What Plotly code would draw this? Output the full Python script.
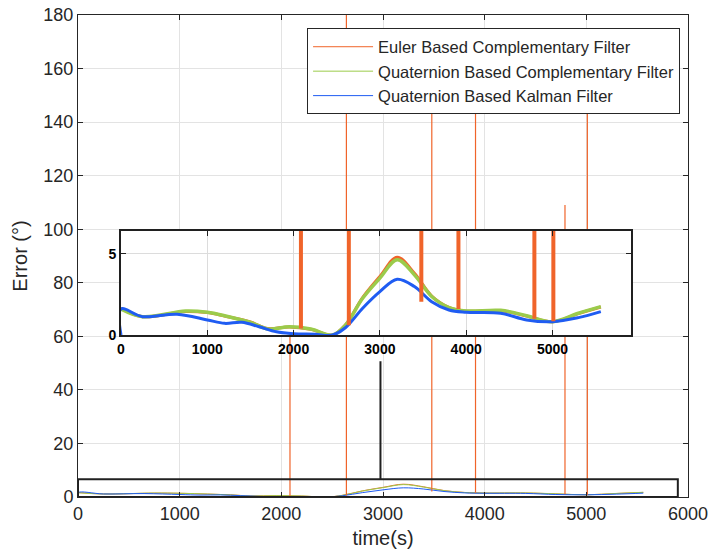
import plotly.graph_objects as go

# ---------------- data ----------------
kf_t = [0, 0, 250, 650, 1000, 1200, 1400, 1600, 1800, 2000, 2250, 2450, 2600, 2800,
        3000, 3200, 3400, 3600, 3800, 4000, 4400, 4700, 5000, 5300, 5560]
kf_err = [0, 1.6, 1.13, 1.28, 0.93, 0.72, 0.78, 0.51, 0.2, 0.08, 0.05, 0.0, 0.45, 1.65,
          2.67, 3.43, 2.98, 2.05, 1.54, 1.4, 1.34, 0.93, 0.82, 1.07, 1.44]

cf_t = [0, 250, 750, 1000, 1200, 1500, 1700, 1950, 2200, 2450, 2600, 2800,
        3000, 3200, 3400, 3600, 3800, 4000, 4400, 4700, 5000, 5300, 5560]
qcf_err = [1.6, 1.13, 1.48, 1.4, 1.19, 0.78, 0.37, 0.51, 0.37, 0.0, 0.6, 2.26,
           3.5, 4.63, 3.7, 2.37, 1.69, 1.48, 1.52, 1.19, 0.82, 1.34, 1.75]
ecf_err = [1.65, 1.13, 1.45, 1.38, 1.17, 0.8, 0.4, 0.5, 0.35, 0.0, 0.62, 2.3,
           3.6, 4.78, 3.8, 2.4, 1.7, 1.47, 1.5, 1.17, 0.82, 1.32, 1.72]

# Euler filter spikes
spike_t = [2085, 2640, 3480, 3910, 4790, 5010]
spike_base = [0.4, 0.6, 2.05, 1.6, 1.0, 0.85]
spike_peak = [85, 200, 170, 147, 109, 165]

names = ["Euler Based Complementary Filter",
         "Quaternion Based Complementary Filter",
         "Quaternion Based Kalman Filter"]
x_ticks = [0, 1000, 2000, 3000, 4000, 5000, 6000]
y_ticks = [0, 20, 40, 60, 80, 100, 120, 140, 160, 180]
inset_x_ticks = [0, 1000, 2000, 3000, 4000, 5000]
inset_y_ticks = [0, 5]

# zoom box and connector (data coords of main axes)
zoom_box = dict(x0=0, x1=5900, y0=0, y1=6.6)
connector = dict(x=2975, y0=6.6, y1=50.7)

C_EUL = "#F0642A"
C_QCF = "#9BCB4B"
C_KF = "#1F5CF2"
TXT = "#262626"
FONT = "Liberation Sans, Arial, sans-serif"

sx, sy = [], []
for t, b, p in zip(spike_t, spike_base, spike_peak):
    sx += [t, t, None]
    sy += [b, p, None]

fig = go.Figure()

# ---- main axes traces ----
fig.add_trace(go.Scatter(x=cf_t, y=ecf_err, mode="lines", name=names[0],
                         line=dict(color=C_EUL, width=1, shape="spline"),
                         legendgroup="e"))
fig.add_trace(go.Scatter(x=cf_t, y=qcf_err, mode="lines", name=names[1],
                         line=dict(color=C_QCF, width=1, shape="spline"),
                         legendgroup="q"))
fig.add_trace(go.Scatter(x=kf_t, y=kf_err, mode="lines", name=names[2],
                         line=dict(color=C_KF, width=1, shape="spline"),
                         legendgroup="k"))
fig.add_trace(go.Scatter(x=sx, y=sy, mode="lines", showlegend=False,
                         line=dict(color=C_EUL, width=1.2), legendgroup="e"))

# ---- inset traces ----
fig.add_trace(go.Scatter(x=cf_t, y=ecf_err, mode="lines", showlegend=False,
                         line=dict(color=C_EUL, width=3, shape="spline"),
                         xaxis="x2", yaxis="y2"))
fig.add_trace(go.Scatter(x=cf_t, y=qcf_err, mode="lines", showlegend=False,
                         line=dict(color=C_QCF, width=3.5, shape="spline"),
                         xaxis="x2", yaxis="y2"))
fig.add_trace(go.Scatter(x=kf_t, y=kf_err, mode="lines", showlegend=False,
                         line=dict(color=C_KF, width=3, shape="spline"),
                         xaxis="x2", yaxis="y2"))
fig.add_trace(go.Scatter(x=sx, y=sy, mode="lines", showlegend=False,
                         line=dict(color=C_EUL, width=4),
                         xaxis="x2", yaxis="y2"))

fig.add_shape(type="rect", xref="x", yref="y", layer="above",
              x0=zoom_box["x0"], x1=zoom_box["x1"], y0=zoom_box["y0"], y1=zoom_box["y1"],
              line=dict(color="#202020", width=2))
fig.add_shape(type="line", xref="x", yref="y", layer="above",
              x0=connector["x"], x1=connector["x"], y0=connector["y0"], y1=connector["y1"],
              line=dict(color="#202020", width=2))

fig.update_layout(
    width=710, height=558,
    margin=dict(l=78, r=22, t=15, b=61, autoexpand=False),
    paper_bgcolor="white", plot_bgcolor="white",
    font=dict(family=FONT, color=TXT),
    xaxis=dict(range=[0, 6000], tickvals=x_ticks, ticks="inside", ticklen=5,
               tickcolor=TXT, showline=True, mirror="ticks", linecolor=TXT, linewidth=1,
               showgrid=True, gridcolor="#E3E3E3", zeroline=False, automargin=False,
               tickfont=dict(size=18, color=TXT),
               title=dict(text="time(s)", font=dict(size=20, color=TXT), standoff=8)),
    yaxis=dict(range=[0, 180], tickvals=y_ticks, ticks="inside", ticklen=5,
               tickcolor=TXT, showline=True, mirror="ticks", linecolor=TXT, linewidth=1,
               showgrid=True, gridcolor="#E3E3E3", zeroline=False, automargin=False,
               tickfont=dict(size=18, color=TXT),
               title=dict(text="Error (°)", font=dict(size=20, color=TXT), standoff=10)),
    xaxis2=dict(domain=[0.0705, 0.9066], anchor="y2", range=[0, 5910],
                tickvals=inset_x_ticks, ticks="inside", ticklen=5, tickcolor="#202020",
                showline=True, mirror="ticks", linecolor="#202020", linewidth=2,
                showgrid=True, gridcolor="#DCDCDC", zeroline=False, automargin=False,
                tickfont=dict(size=14, color="black", weight="bold")),
    yaxis2=dict(domain=[0.336, 0.552], anchor="x2", range=[0, 6.4],
                tickvals=inset_y_ticks, ticks="inside", ticklen=5, tickcolor="#202020",
                showline=True, mirror="ticks", linecolor="#202020", linewidth=2,
                showgrid=True, gridcolor="#DCDCDC", zeroline=False, automargin=False,
                tickfont=dict(size=14, color="black", weight="bold")),
    legend=dict(x=0.987, y=0.972, xanchor="right", yanchor="top",
                bgcolor="white", bordercolor=TXT, borderwidth=1,
                font=dict(size=16.5, color=TXT), itemwidth=60,
                tracegroupgap=0),
    showlegend=True,
)

fig.write_html("out.html")
